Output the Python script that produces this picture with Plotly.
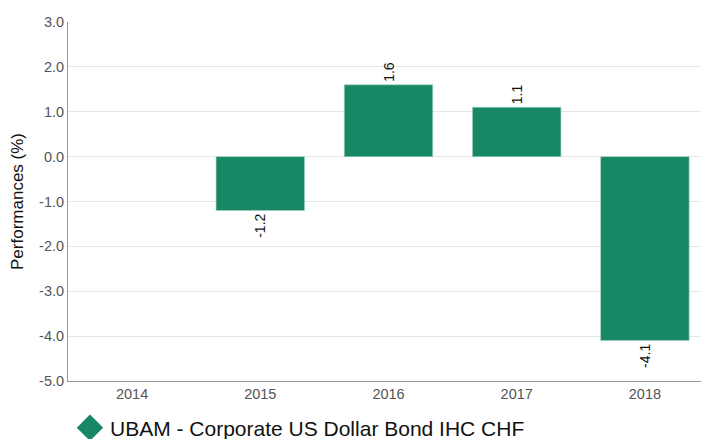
import plotly.graph_objects as go

years = ["2014", "2015", "2016", "2017", "2018"]
perf = [None, -1.2, 1.6, 1.1, -4.1]
labels = ["", "-1.2", "1.6", "1.1", "-4.1"]
y_ticks = [3, 2, 1, 0, -1, -2, -3, -4, -5]
y_tick_labels = ["3.0", "2.0", "1.0", "0.0", "-1.0", "-2.0", "-3.0", "-4.0", "-5.0"]
series_name = "UBAM - Corporate US Dollar Bond IHC CHF"
color = "#178766"

fig = go.Figure()
fig.add_trace(go.Bar(
    x=years, y=perf, text=labels, textposition="outside", textangle=-90,
    textfont=dict(size=14, color="#111111"), cliponaxis=False,
    marker=dict(color=color, line=dict(color="#9fd3c2", width=0.6)),
    showlegend=False, hoverinfo="x+y",
))
fig.add_trace(go.Scatter(
    x=[years[0]], y=[None], mode="markers", name=series_name,
    marker=dict(symbol="diamond", size=16, color=color,
                line=dict(color=color, width=4)), showlegend=True,
))
fig.update_layout(
    width=701, height=431,
    margin=dict(l=60, r=0, t=14, b=58),
    plot_bgcolor="white", paper_bgcolor="white",
    font=dict(family="Arial, Liberation Sans, sans-serif", color="#555555", size=14),
    bargap=0.31,
    showlegend=True,
    legend=dict(orientation="h", xref="container", yref="container",
                x=0.0884, xanchor="left", y=0.0255, yanchor="middle",
                font=dict(size=21, color="#111111"), itemwidth=30),
    xaxis=dict(type="category", showline=True, linecolor="#999999", linewidth=1,
               showgrid=False, ticks="", automargin=False,
               tickfont=dict(size=14.5, color="#555555")),
    yaxis=dict(range=[-5, 3], tickmode="array", tickvals=y_ticks, ticktext=y_tick_labels,
               showgrid=True,
               gridcolor="#e6e6e6", zeroline=False, showline=True,
               linecolor="#999999", linewidth=1, ticks="", automargin=False,
               tickfont=dict(size=14.5, color="#555555"),
               title=dict(text="Performances (%)", font=dict(size=17, color="#111111"), standoff=15)),
)
fig.write_html("out.html")
